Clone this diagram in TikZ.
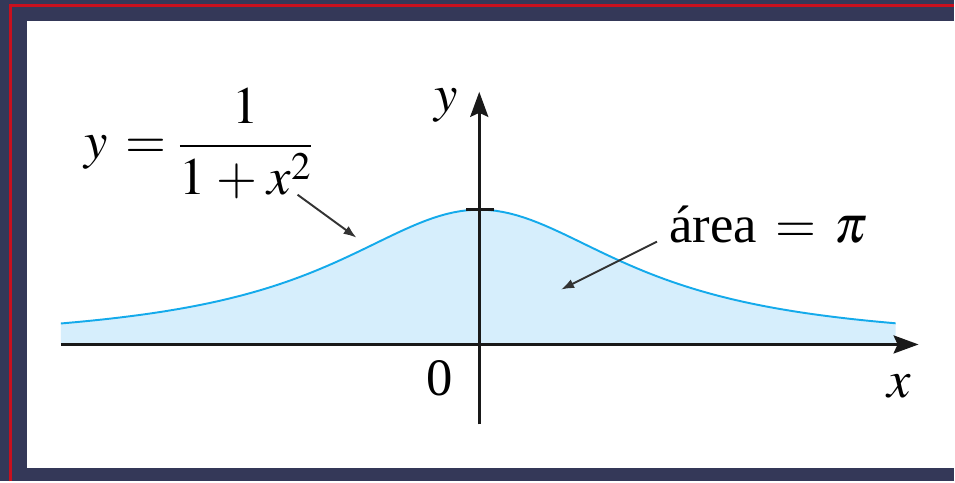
\documentclass[tikz,border=0pt]{standalone}
\usepackage{amsmath}
\usepackage{mathptmx}
\usepackage{fontspec}
\setmainfont{Liberation Serif}
\usepackage{tikz}
\usetikzlibrary{arrows.meta}
\definecolor{framenavy}{RGB}{52,56,88}
\definecolor{framered}{RGB}{200,16,30}
\definecolor{areablue}{RGB}{214,238,252}
\definecolor{curveblue}{RGB}{20,170,235}

\begin{document}
\begin{tikzpicture}[
 x=0.02cm,y=-0.02cm,
 every node/.style={font=\fontsize{30}{36}\selectfont,inner sep=0pt},
 axis/.style={line width=1.7pt,black!90,-{Stealth[length=0.5cm,width=0.36cm,inset=0.08cm]}},
 arr/.style={-{Latex[length=0.26cm,width=0.19cm]},line width=1.1pt,black!80},
 curve/.style={curveblue,line width=1.1pt}
]
% frame
\fill[framenavy] (0,0) rectangle (955,482);
\draw[framered,line width=1.7pt] (11,482) -- (11,6) -- (955,6);
\fill[white] (27,21) rectangle (955,469);
% area under the curve
\fill[areablue] (61,345) -- plot[domain=61:897,samples=120] (\x,{345-135/(1+((\x-480)/180)^2)}) -- (897,345) -- cycle;
\draw[curve] plot[domain=61:897,samples=120] (\x,{345-135/(1+((\x-480)/180)^2)});
% axes
\coordinate (xstart) at (61,345);
\coordinate (xend) at (920,345);
\coordinate (ystart) at (480,425);
\coordinate (yend) at (480,92);
\draw[axis] (xstart) -- (xend);
\draw[axis] (ystart) -- (yend);
\draw[line width=1.7pt,black!90] (467,210) -- (495,210);
% labels
\node[anchor=base] (ylab) at (447,112) {$y$};
\node[anchor=base] (xlab) at (901,398) {$x$};
\node[anchor=base] (orig) at (440,396) {0};
\node[anchor=base west] (fn) at (84,159) {$y\,=\dfrac{1}{1\mkern1mu+\mkern1mu x^2}$};
\node[anchor=base west] (area) at (670,243) {área $\,=\,\pi$};
% pointers
\coordinate (fntail) at (298,195);
\coordinate (fnhead) at (357,238);
\coordinate (areatail) at (658,242);
\coordinate (areahead) at (562,290);
\draw[arr] (fntail) -- (fnhead);
\draw[arr] (areatail) -- (areahead);
\end{tikzpicture}
\end{document}
